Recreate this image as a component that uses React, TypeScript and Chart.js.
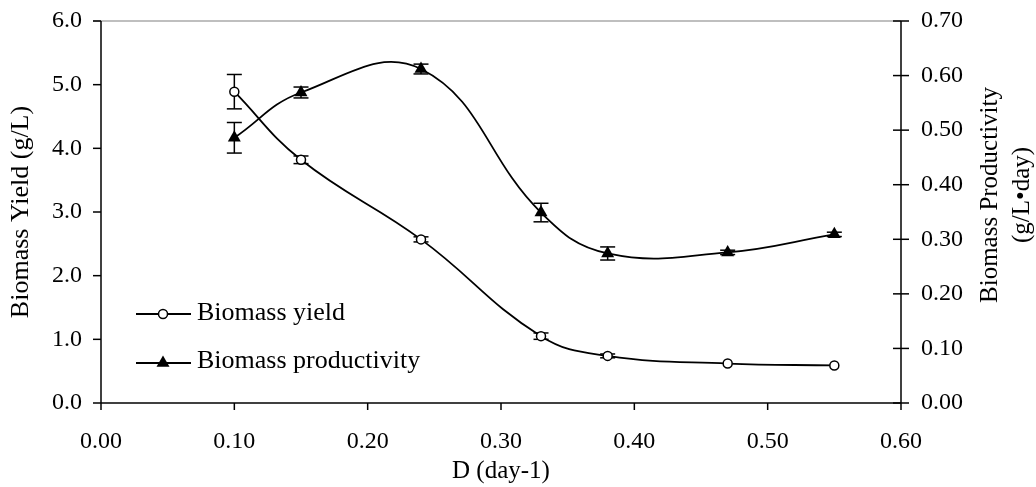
import React, { useEffect, useRef } from "react";
import { Chart, registerables } from "chart.js";

Chart.register(...registerables);

// ---- Data ----
const dilutionRate = [0.1, 0.15, 0.24, 0.33, 0.38, 0.47, 0.55];
const biomassYield = [4.89, 3.82, 2.57, 1.05, 0.74, 0.62, 0.59];
const yieldError = [0.27, 0.06, 0.04, 0.05, 0.03, 0, 0];
const biomassProductivity = [0.486, 0.569, 0.612, 0.349, 0.274, 0.276, 0.309];
const productivityError = [0.028, 0.01, 0.009, 0.017, 0.012, 0.004, 0.004];

const xTickLabels = ["0.00", "0.10", "0.20", "0.30", "0.40", "0.50", "0.60"];
const leftTickLabels = ["0.0", "1.0", "2.0", "3.0", "4.0", "5.0", "6.0"];
const rightTickLabels = ["0.00", "0.10", "0.20", "0.30", "0.40", "0.50", "0.60", "0.70"];

const seriesNames = ["Biomass yield", "Biomass productivity"];
const xTitle = "D (day-1)";
const leftTitle = "Biomass Yield (g/L)";
const rightTitle = ["Biomass Productivity", "(g/L•day)"];

const FONT = "'Liberation Serif', 'Times New Roman', serif";

function App() {
  const canvasRef = useRef<HTMLCanvasElement | null>(null);

  useEffect(() => {
    const canvas = canvasRef.current;
    if (!canvas) return;

    const line = (ctx: CanvasRenderingContext2D, x1: number, y1: number, x2: number, y2: number) => {
      ctx.beginPath();
      ctx.moveTo(x1, y1);
      ctx.lineTo(x2, y2);
      ctx.stroke();
    };

    const drawCircle = (ctx: CanvasRenderingContext2D, x: number, y: number, r: number) => {
      ctx.beginPath();
      ctx.arc(x, y, r, 0, Math.PI * 2);
      ctx.fillStyle = "#fff";
      ctx.fill();
      ctx.lineWidth = 1.5;
      ctx.strokeStyle = "#000";
      ctx.stroke();
    };

    const drawTriangle = (ctx: CanvasRenderingContext2D, x: number, y: number, r: number) => {
      ctx.beginPath();
      for (let k = 0; k < 3; k++) {
        const a = (k * 2 * Math.PI) / 3;
        const px = x + Math.sin(a) * r;
        const py = y - Math.cos(a) * r;
        if (k === 0) ctx.moveTo(px, py);
        else ctx.lineTo(px, py);
      }
      ctx.closePath();
      ctx.fillStyle = "#000";
      ctx.fill();
    };

    const decorPlugin = {
      id: "decor",
      beforeDatasetsDraw(chart: any) {
        const ctx: CanvasRenderingContext2D = chart.ctx;
        const { left, right, top, bottom } = chart.chartArea;
        const sx = chart.scales.x;
        const sy = chart.scales.y;
        const sy1 = chart.scales.y1;
        ctx.save();
        // top border (plot area frame)
        ctx.strokeStyle = "#808080";
        ctx.lineWidth = 1.2;
        line(ctx, left - 8, top, right, top);
        ctx.strokeStyle = "#000";
        ctx.lineWidth = 1.5;
        // left axis
        line(ctx, left, top, left, bottom);
        sy.ticks.forEach((t: any) => {
          const y = sy.getPixelForValue(t.value);
          line(ctx, left - 8, y, left, y);
        });
        // bottom axis
        line(ctx, left, bottom, right, bottom);
        sx.ticks.forEach((t: any) => {
          const x = sx.getPixelForValue(t.value);
          line(ctx, x, bottom, x, bottom + 7);
        });
        // right axis
        line(ctx, right, top, right, bottom);
        sy1.ticks.forEach((t: any) => {
          const y = sy1.getPixelForValue(t.value);
          line(ctx, right - 8, y, right + 8, y);
        });

        // error bars
        const errs = [yieldError, productivityError];
        const vals = [biomassYield, biomassProductivity];
        const scales = [sy, sy1];
        ctx.lineWidth = 1.5;
        for (let d = 0; d < 2; d++) {
          const meta = chart.getDatasetMeta(d);
          meta.data.forEach((pt: any, j: number) => {
            const e = errs[d][j];
            if (!e) return;
            const x = pt.x;
            const yHi = scales[d].getPixelForValue(vals[d][j] + e);
            const yLo = scales[d].getPixelForValue(vals[d][j] - e);
            line(ctx, x, yHi, x, yLo);
            line(ctx, x - 7.5, yHi, x + 7.5, yHi);
            line(ctx, x - 7.5, yLo, x + 7.5, yLo);
          });
        }
        ctx.restore();
      },
      afterDraw(chart: any) {
        const ctx: CanvasRenderingContext2D = chart.ctx;
        const { left, right, top, bottom } = chart.chartArea;
        ctx.save();
        // legend
        const rows = [314, 363];
        const textRows = [313.5, 361];
        ctx.strokeStyle = "#000";
        for (let i = 0; i < 2; i++) {
          ctx.lineWidth = 1.8;
          line(ctx, 136, rows[i], 191, rows[i]);
          if (i === 0) drawCircle(ctx, 163, rows[i], 4.5);
          else drawTriangle(ctx, 163, rows[i], 7.5);
          ctx.fillStyle = "#000";
          ctx.font = `26px ${FONT}`;
          ctx.textAlign = "left";
          ctx.textBaseline = "middle";
          ctx.fillText(seriesNames[i], 197, textRows[i]);
        }
        // axis titles
        ctx.fillStyle = "#000";
        ctx.textAlign = "center";
        ctx.textBaseline = "middle";
        ctx.font = `25px ${FONT}`;
        ctx.fillText(xTitle, (left + right) / 2, 471.4);

        ctx.save();
        ctx.font = `26px ${FONT}`;
        ctx.translate(21, (top + bottom) / 2);
        ctx.rotate(-Math.PI / 2);
        ctx.fillText(leftTitle, 0, 0);
        ctx.restore();

        const rx = [990, 1022];
        ctx.font = `25px ${FONT}`;
        for (let i = 0; i < rightTitle.length; i++) {
          ctx.save();
          ctx.translate(rx[i], 195);
          ctx.rotate(-Math.PI / 2);
          ctx.fillText(rightTitle[i], 0, 0);
          ctx.restore();
        }
        ctx.restore();
      },
    };

    const chart = new Chart(canvas, {
      type: "line",
      data: {
        datasets: [
          {
            label: seriesNames[0],
            data: dilutionRate.map((x, i) => ({ x, y: biomassYield[i] })),
            yAxisID: "y",
            borderColor: "#000",
            borderWidth: 1.8,
            pointStyle: "circle",
            pointRadius: 4.5,
            pointBorderWidth: 1.5,
            pointBackgroundColor: "#fff",
            pointBorderColor: "#000",
            tension: 0.42,
            fill: false,
          },
          {
            label: seriesNames[1],
            data: dilutionRate.map((x, i) => ({ x, y: biomassProductivity[i] })),
            yAxisID: "y1",
            borderColor: "#000",
            borderWidth: 1.8,
            pointStyle: "triangle",
            pointRadius: 7.5,
            pointBorderWidth: 0,
            pointBackgroundColor: "#000",
            pointBorderColor: "#000",
            tension: 0.42,
            fill: false,
          },
        ],
      },
      options: {
        responsive: true,
        maintainAspectRatio: false,
        animation: false,
        events: [],
        layout: { padding: { top: 21, left: 0, right: 0, bottom: 0 } },
        plugins: {
          legend: { display: false },
          tooltip: { enabled: false },
          title: { display: false },
        },
        scales: {
          x: {
            type: "linear",
            min: 0,
            max: 0.6,
            grid: { display: false, drawTicks: false },
            border: { display: false },
            ticks: {
              stepSize: 0.1,
              autoSkip: false,
              maxRotation: 0,
              padding: 24,
              color: "#000",
              font: { family: FONT, size: 24 },
              callback: (v: any, i: number) => xTickLabels[i] ?? Number(v).toFixed(2),
            },
            afterFit: (s: any) => {
              s.height = 84;
              s.paddingLeft = 0;
              s.paddingRight = 0;
            },
          },
          y: {
            type: "linear",
            position: "left",
            min: 0,
            max: 6,
            grid: { display: false, drawTicks: false },
            border: { display: false },
            ticks: {
              stepSize: 1,
              autoSkip: false,
              padding: 19,
              color: "#000",
              font: { family: FONT, size: 24, lineHeight: 1 },
              callback: (v: any, i: number) => leftTickLabels[i] ?? Number(v).toFixed(1),
            },
            afterFit: (s: any) => {
              s.width = 101;
              s.paddingTop = 0;
              s.paddingBottom = 0;
            },
          },
          y1: {
            type: "linear",
            position: "right",
            min: 0,
            max: 0.7,
            grid: { display: false, drawTicks: false },
            border: { display: false },
            ticks: {
              stepSize: 0.1,
              autoSkip: false,
              padding: 20,
              color: "#000",
              font: { family: FONT, size: 24, lineHeight: 1 },
              callback: (v: any, i: number) => rightTickLabels[i] ?? Number(v).toFixed(2),
            },
            afterFit: (s: any) => {
              s.width = 135;
              s.paddingTop = 0;
              s.paddingBottom = 0;
            },
          },
        },
      },
      plugins: [decorPlugin],
    } as any);

    return () => {
      chart.destroy();
    };
  }, []);

  return (
    <div style={{ position: "absolute", left: 0, top: 0, width: "1036px", height: "487px" }}>
      <canvas ref={canvasRef} />
    </div>
  );
}

export default App;
